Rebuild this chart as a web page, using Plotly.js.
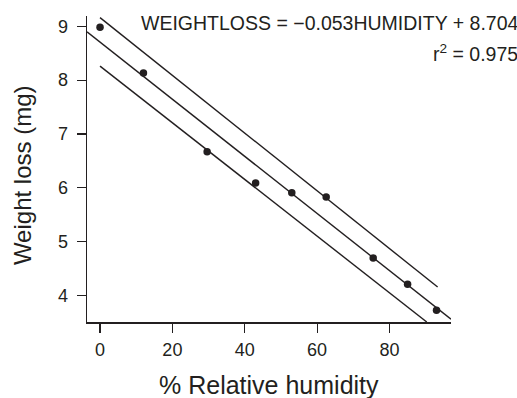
<!DOCTYPE html>
<html>
<head>
<meta charset="utf-8">
<script src="https://cdn.plot.ly/plotly-3.0.1.min.js"></script>
<style>html,body{margin:0;padding:0;background:#fff;}#chart{width:517px;height:398px;}</style>
</head>
<body>
<div id="chart"></div>
<script>
// Observed data
const humidity = [0, 12, 29.6, 43, 53, 62.5, 75.5, 85, 93];
const weightLoss = [8.98, 8.13, 6.67, 6.09, 5.91, 5.83, 4.70, 4.21, 3.73];

// Fitted regression line endpoints (from equation)
const fitX = [-3.6, 97.0];
const fitY = [8.895, 3.563];

// Upper and lower band lines
const upperX = [0, 93.3];
const upperY = [9.16, 4.16];
const lowerX = [0, 90.3];
const lowerY = [8.26, 3.51];

const eqText = "WEIGHTLOSS = \u22120.053HUMIDITY + 8.704";
const r2Text = "r<sup>2</sup> = 0.975";
const xTitle = "% Relative humidity";
const yTitle = "Weight loss (mg)";

const xTicks = [0, 20, 40, 60, 80];
const yTicks = [4, 5, 6, 7, 8, 9];

const ink = '#231f20';
const lineStyle = {color: ink, width: 1.4};

const traces = [
  {x: fitX, y: fitY, mode: 'lines', line: lineStyle, hoverinfo: 'skip'},
  {x: upperX, y: upperY, mode: 'lines', line: lineStyle, hoverinfo: 'skip'},
  {x: lowerX, y: lowerY, mode: 'lines', line: lineStyle, hoverinfo: 'skip'},
  {x: humidity, y: weightLoss, mode: 'markers', marker: {color: ink, size: 7.5}}
];

const layout = {
  width: 517, height: 398,
  margin: {l: 87, r: 66, t: 16, b: 76},
  paper_bgcolor: '#fff', plot_bgcolor: '#fff',
  showlegend: false,
  font: {family: 'Liberation Sans, Arial, sans-serif', color: ink},
  xaxis: {
    range: [-3.6, 97.0], tickvals: xTicks, ticktext: xTicks.map(String),
    showgrid: false, zeroline: false, showline: true, linecolor: ink, linewidth: 1.5,
    ticks: 'outside', ticklen: 9, tickwidth: 1.2, tickcolor: ink,
    tickfont: {size: 18, color: ink}, ticklabelstandoff: 2
  },
  yaxis: {
    range: [3.51, 9.19], tickvals: yTicks, ticktext: yTicks.map(String),
    showgrid: false, zeroline: false, showline: true, linecolor: ink, linewidth: 1.5,
    ticks: 'outside', ticklen: 9, tickwidth: 1.2, tickcolor: ink,
    tickfont: {size: 18, color: ink}, ticklabelstandoff: 5
  },
  annotations: [
    {xref: 'paper', yref: 'paper', x: 1.19, y: 0.977, xanchor: 'right', yanchor: 'middle',
     text: eqText, showarrow: false, font: {size: 19.5, color: ink}},
    {xref: 'paper', yref: 'paper', x: 1.19, y: 0.879, xanchor: 'right', yanchor: 'middle',
     text: r2Text, showarrow: false, font: {size: 19.5, color: ink}},
    {xref: 'paper', yref: 'paper', x: 0.5, y: -0.206, xanchor: 'center', yanchor: 'middle',
     text: xTitle, showarrow: false, font: {size: 25, color: ink}},
    {xref: 'paper', yref: 'paper', x: -0.1786, y: 0.48, xanchor: 'center', yanchor: 'middle',
     text: yTitle, textangle: -90, showarrow: false, font: {size: 24, color: ink}}
  ]
};

Plotly.newPlot('chart', traces, layout, {displayModeBar: false, staticPlot: true});
</script>
</body>
</html>
